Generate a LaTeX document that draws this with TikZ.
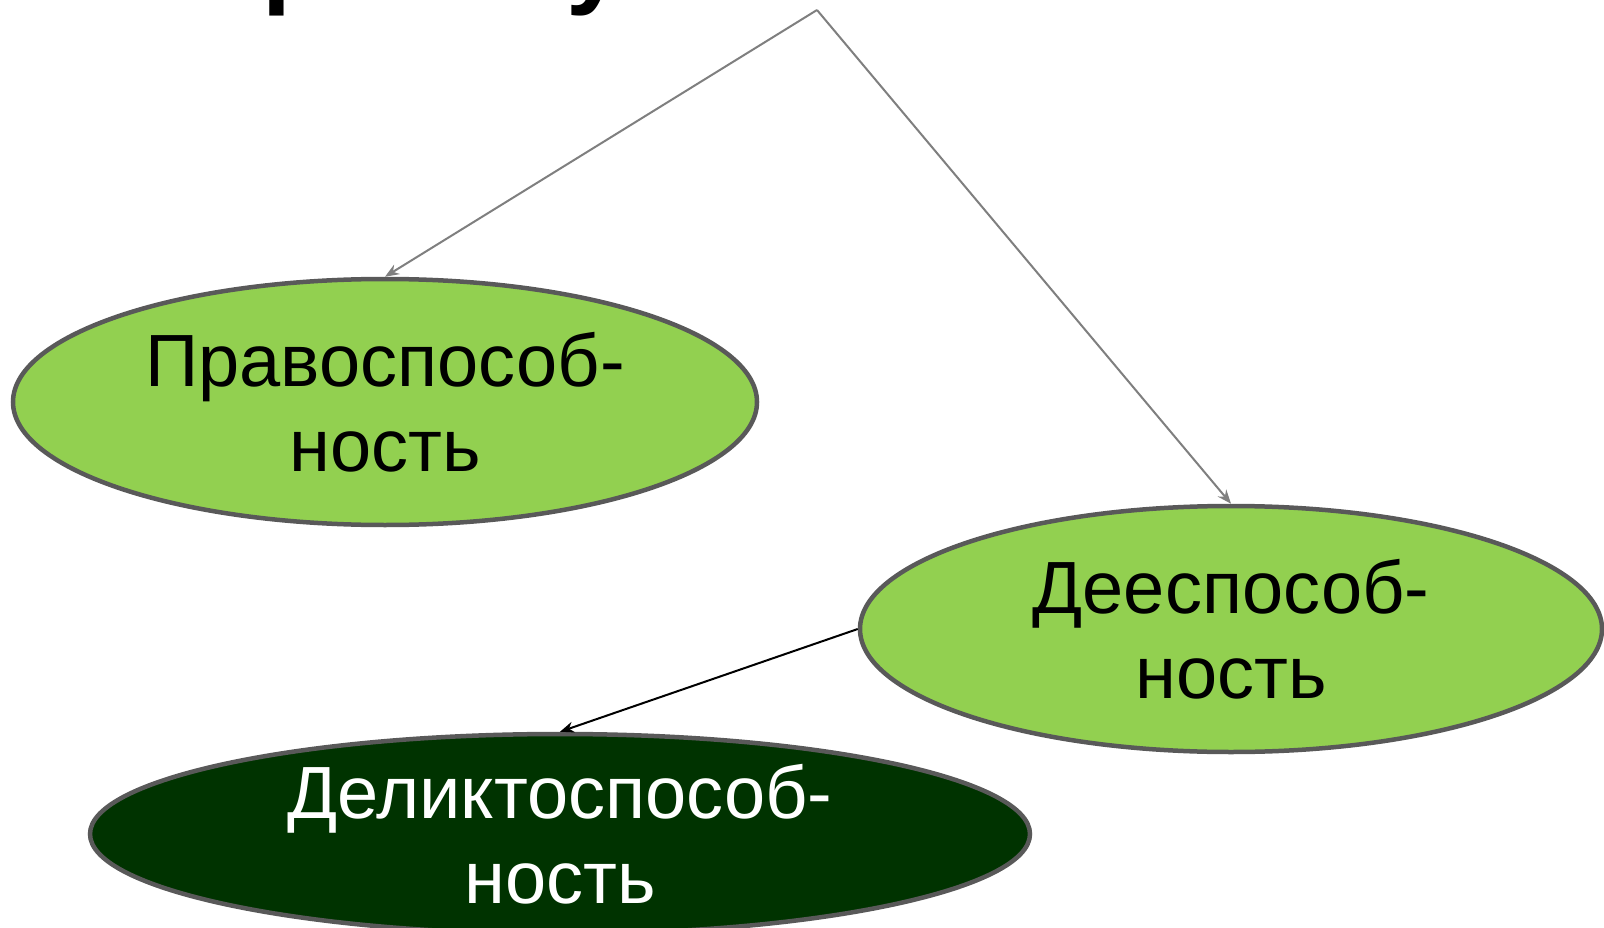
\documentclass[tikz,border=0pt]{standalone}
\usepackage{fontspec}
\setmainfont{Liberation Sans}
\usetikzlibrary{shapes.geometric,arrows.meta}
\definecolor{lightgreen}{HTML}{92D050}
\definecolor{darkgreen}{HTML}{003300}
\definecolor{ovalborder}{HTML}{595959}
\definecolor{conngray}{HTML}{7F7F7F}
\begin{document}
\begin{tikzpicture}[x=1pt,y=-1pt,
  oval/.style={ellipse, draw=ovalborder, line width=4.5pt, inner sep=0pt},
  lbl/.style={font=\fontsize{74}{85}\selectfont, align=center, inner sep=0pt},
  grayconn/.style={draw=conngray, line width=2pt, -{Stealth[length=14pt,width=11pt]}},
  blackconn/.style={draw=black, line width=2pt, -{Stealth[length=14pt,width=11pt]}}]
\useasboundingbox (0,0) rectangle (1604,928);
\begin{scope}
  \clip (0,0) rectangle (1604,928);
  \node[anchor=base west, inner sep=0pt, font=\bfseries\fontsize{104}{120}\selectfont] (title) at (188,-5) {Правосубъектность};
\end{scope}
\coordinate (apex) at (817,10);
\node[oval, fill=lightgreen, minimum width=744pt, minimum height=246pt] (pravo) at (385,402) {};
\node[oval, fill=lightgreen, minimum width=742pt, minimum height=246pt] (dee) at (1231,629) {};
\node[oval, fill=darkgreen, minimum width=940pt, minimum height=200pt] (delikt) at (560,834) {};
\node[lbl] (pravotext) at (pravo.center) {Правоспособ-\\ность};
\node[lbl] (deetext) at (dee.center) {Дееспособ-\\ность};
\node[lbl, text=white] (delikttext) at (delikt.center) {Деликтоспособ-\\ность};
\draw[grayconn] (apex) -- (pravo.north);
\draw[grayconn] (apex) -- (dee.north);
\draw[blackconn] (dee.west) -- (delikt.north);
\end{tikzpicture}
\end{document}
